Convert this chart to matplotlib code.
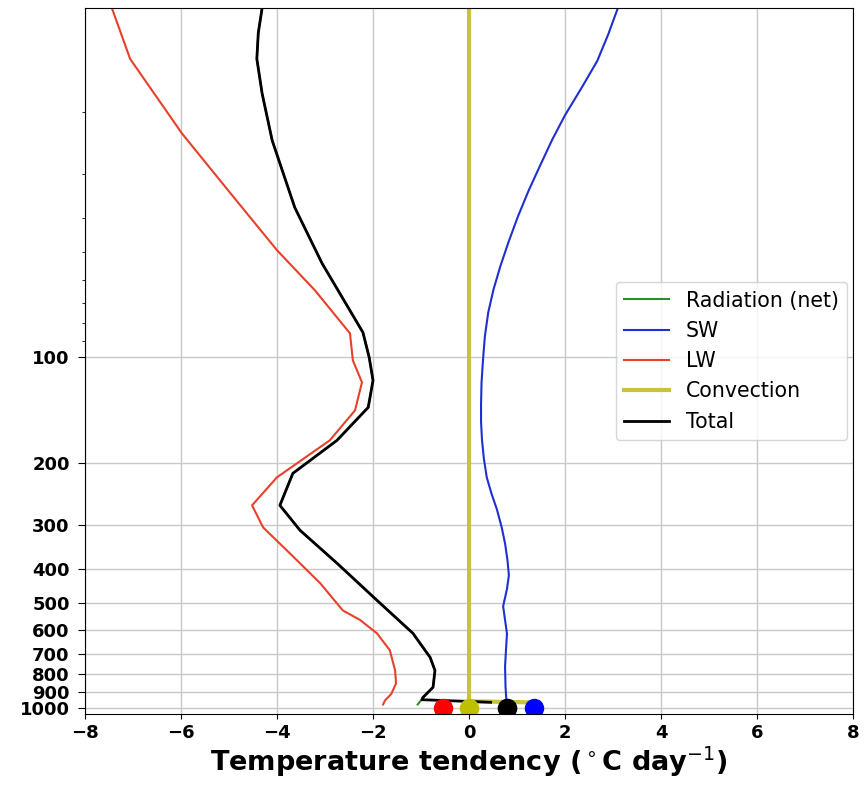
import matplotlib
matplotlib.use('Agg')
import matplotlib.pyplot as plt
import matplotlib.ticker as ticker

# Pressure levels (hPa) and temperature tendencies (degC / day)
p_net = [10.1, 11.9, 14.1, 17.7, 24.1, 37.4, 54.0, 84.9, 100, 116.3, 138.8, 172.3, 214, 264, 311,
         386, 492, 611, 716, 780, 871, 931, 945, 975]
net = [-4.31, -4.39, -4.42, -4.31, -4.10, -3.63, -3.06, -2.21, -2.08, -2.0, -2.1, -2.75, -3.67, -3.94, -3.52,
       -2.75, -1.92, -1.17, -0.81, -0.71, -0.75, -0.96, -0.99, -1.07]

p_sw = [10.1, 12.0, 14.3, 17.0, 20.4, 24.0, 28.4, 33.5, 39.6, 47.0, 55.1, 64.0, 74.4, 87.0, 102, 118, 136,
        153, 172, 195, 220, 245, 271, 305, 339, 378, 418, 457, 512, 560, 613, 680, 760, 870, 961]
sw = [3.10, 2.90, 2.67, 2.35, 2.0, 1.73, 1.48, 1.24, 1.02, 0.82, 0.65, 0.51, 0.40, 0.33, 0.29, 0.26, 0.25,
      0.25, 0.27, 0.31, 0.37, 0.47, 0.58, 0.68, 0.75, 0.80, 0.83, 0.79, 0.71, 0.75, 0.79, 0.77, 0.75, 0.76, 0.78]

p_lw = [10.1, 14.1, 23.0, 33.4, 49.5, 64.4, 85.4, 102, 117.8, 141.6, 172.3, 219.6, 264, 305, 362, 440, 526,
        560, 611, 683, 780, 849, 910, 949, 975]
lw = [-7.44, -7.06, -5.98, -5.02, -4.0, -3.21, -2.48, -2.42, -2.23, -2.375, -2.9, -4.0, -4.52, -4.29, -3.73, -3.1,
      -2.63, -2.27, -1.92, -1.65, -1.54, -1.52, -1.62, -1.75, -1.79]

p_conv = [10.1, 955, 961]
conv = [0.0, 0.0, 1.2]

p_tot = [10.1, 11.9, 14.1, 17.7, 24.1, 37.4, 54.0, 84.9, 100, 116.3, 138.8, 172.3, 214, 264, 311,
         386, 492, 611, 716, 780, 871, 931, 945, 961]
tot = [-4.31, -4.39, -4.42, -4.31, -4.10, -3.63, -3.06, -2.21, -2.08, -2.0, -2.1, -2.75, -3.67, -3.94, -3.52,
       -2.75, -1.92, -1.17, -0.81, -0.71, -0.75, -0.96, -0.98, 0.45]

# Surface tendencies (plotted at 1000 hPa)
p_sfc = 1000
sfc_net = 0.79
sfc_sw = 1.35
sfc_lw = -0.55
sfc_conv = 0.0
sfc_tot = 0.79

labels = ['Radiation (net)', 'SW', 'LW', 'Convection', 'Total']
colors = ['#2e8b2e', '#1f2fd0', '#e8402a', '#c9c23a', 'k']
dot_colors = ['g', 'b', 'r', 'y', 'k']
widths = [1.5, 1.5, 1.5, 3.0, 2.0]

fig = plt.figure(figsize=(8.67, 7.99), dpi=100)
ax = fig.add_axes([0.098, 0.106, 0.886, 0.884])

profiles = [(net, p_net), (sw, p_sw), (lw, p_lw), (conv, p_conv), (tot, p_tot)]
for (x, p), lab, col, lwid in zip(profiles, labels, colors, widths):
    ax.plot(x, p, color=col, linewidth=lwid, label=lab)

for x, col in zip([sfc_net, sfc_sw, sfc_lw, sfc_conv, sfc_tot], dot_colors):
    ax.plot(x, p_sfc, 'o', color=col, markersize=13)

ax.set_yscale('log')
ax.set_ylim(1040, 10.1)
ax.set_xlim(-8, 8)
ax.set_xticks(range(-8, 9, 2))
ax.set_yticks([100, 200, 300, 400, 500, 600, 700, 800, 900, 1000])
ax.yaxis.set_major_formatter(ticker.FormatStrFormatter('%d'))
ax.yaxis.set_minor_formatter(ticker.NullFormatter())
ax.tick_params(labelsize=13)
ax.tick_params(axis='y', which='major', length=5, pad=6)
for t in ax.get_xticklabels() + ax.get_yticklabels():
    t.set_fontweight('bold')
ax.grid(True, which='major', color='#c8c8c8', linewidth=1)
ax.set_xlabel('Temperature tendency ($^\\circ$C day$^{-1}$)', fontsize=19.5, fontweight='bold', labelpad=2)

ax.legend(loc='center right', fontsize=14.8, handlelength=2.2, borderaxespad=0.3)

fig.savefig('out.png', dpi=100)
